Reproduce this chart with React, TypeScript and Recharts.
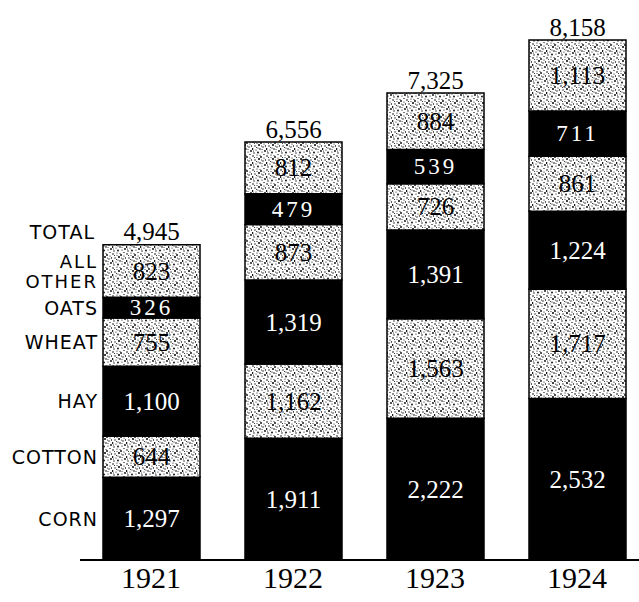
import React from 'react';
import { BarChart, Bar, XAxis, YAxis, LabelList } from 'recharts';

const years = ['1921', '1922', '1923', '1924'];
const corn = [1297, 1911, 2222, 2532];
const cotton = [644, 1162, 1563, 1717];
const hay = [1100, 1319, 1391, 1224];
const wheat = [755, 873, 726, 861];
const oats = [326, 479, 539, 711];
const other = [823, 812, 884, 1113];
const totals = [4945, 6556, 7325, 8158];

const crops = [
  { key: 'corn', name: 'CORN', solid: true },
  { key: 'cotton', name: 'COTTON', solid: false },
  { key: 'hay', name: 'HAY', solid: true },
  { key: 'wheat', name: 'WHEAT', solid: false },
  { key: 'oats', name: 'OATS', solid: true },
  { key: 'other', name: 'ALL|OTHER', solid: false },
];

const data = years.map((year, i) => ({
  year,
  corn: corn[i],
  cotton: cotton[i],
  hay: hay[i],
  wheat: wheat[i],
  oats: oats[i],
  other: other[i],
  total: totals[i],
}));

const numFont = '"Liberation Serif", "DejaVu Serif", serif';
const nameFont = '"DejaVu Sans", sans-serif';

// speckle dots for the stippled segments
const dots = [
  [1, 2, 0.8], [5, 1, 0.6], [9, 3, 0.9], [12, 0.5, 0.6], [3, 6, 0.7], [7, 5, 1],
  [11, 7, 0.7], [0.5, 9, 0.9], [4, 10, 0.6], [8, 9, 0.8], [13, 11, 0.9], [2, 13, 0.7],
  [6, 12.5, 0.9], [10, 12, 0.6], [12, 4, 0.6], [6, 8, 0.6], [2.5, 3.5, 0.5], [10, 9.5, 0.5],
  [13.5, 6, 0.7], [8, 1.5, 0.5], [5, 3.5, 0.5], [1.5, 11, 0.5], [9.5, 6, 0.5], [4.5, 7.5, 0.5],
];

const fmt = (v: number) => v.toLocaleString('en-US');

export default function App() {
  return (
    <div style={{ position: 'absolute', left: 0, top: 0, background: '#fff' }}>
      <BarChart
        width={639}
        height={602}
        data={data}
        margin={{ top: 40, right: -9, bottom: 2, left: 80 }}
        barSize={97}
      >
        <defs>
          <pattern id="stipple" width="14" height="14" patternUnits="userSpaceOnUse">
            <rect width="14" height="14" fill="#fff" />
            {dots.map(([cx, cy, r], i) => (
              <circle key={i} cx={cx} cy={cy} r={r} fill="#000" />
            ))}
          </pattern>
        </defs>
        <YAxis hide domain={[0, 8158]} />
        <XAxis
          dataKey="year"
          height={40}
          axisLine={{ stroke: '#000', strokeWidth: 2 }}
          tickLine={false}
          tick={{ fill: '#000', fontSize: 30, fontFamily: numFont }}
          tickMargin={1}
        />
        {crops.map((c) => (
          <Bar
            key={c.key}
            dataKey={c.key}
            stackId="a"
            fill={c.solid ? '#000' : 'url(#stipple)'}
            stroke="#000"
            strokeWidth={1.5}
            isAnimationActive={false}
          >
            <LabelList
              dataKey={c.key}
              content={(p: any) => (
                <text
                  x={p.x + p.width / 2}
                  y={p.y + p.height / 2}
                  textAnchor="middle"
                  dominantBaseline="central"
                  fill={c.solid ? '#fff' : '#000'}
                  fontSize={c.key === 'oats' ? 23 : 25}
                  letterSpacing={c.key === 'oats' ? 3 : 0}
                  fontFamily={numFont}
                >
                  {fmt(p.value)}
                </text>
              )}
            />
            <LabelList
              dataKey={c.key}
              content={(p: any) => {
                if (p.index !== 0) return null;
                const lines = c.name.split('|');
                const cy = p.y + p.height / 2;
                return (
                  <text
                    x={p.x - 5}
                    y={cy - (lines.length - 1) * 10}
                    textAnchor="end"
                    dominantBaseline="central"
                    fill="#000"
                    fontSize={lines.length > 1 ? 18 : 19}
                    letterSpacing={lines.length > 1 ? 2 : 1}
                    fontFamily={nameFont}
                  >
                    {lines.map((l, i) => (
                      <tspan key={i} x={p.x - 5} dy={i === 0 ? 0 : 20}>
                        {l}
                      </tspan>
                    ))}
                  </text>
                );
              }}
            />
            {c.key === 'other' && (
              <LabelList
                dataKey="total"
                content={(p: any) => (
                  <g>
                    <text
                      x={p.x + p.width / 2}
                      y={p.y - 13}
                      textAnchor="middle"
                      dominantBaseline="central"
                      fill="#000"
                      fontSize={25}
                      fontFamily={numFont}
                    >
                      {fmt(p.value)}
                    </text>
                    {p.index === 0 && (
                      <text
                        x={p.x - 8}
                        y={p.y - 13}
                        textAnchor="end"
                        dominantBaseline="central"
                        fill="#000"
                        fontSize={19}
                        letterSpacing={1}
                        fontFamily={nameFont}
                      >
                        TOTAL
                      </text>
                    )}
                  </g>
                )}
              />
            )}
          </Bar>
        ))}
      </BarChart>
    </div>
  );
}
